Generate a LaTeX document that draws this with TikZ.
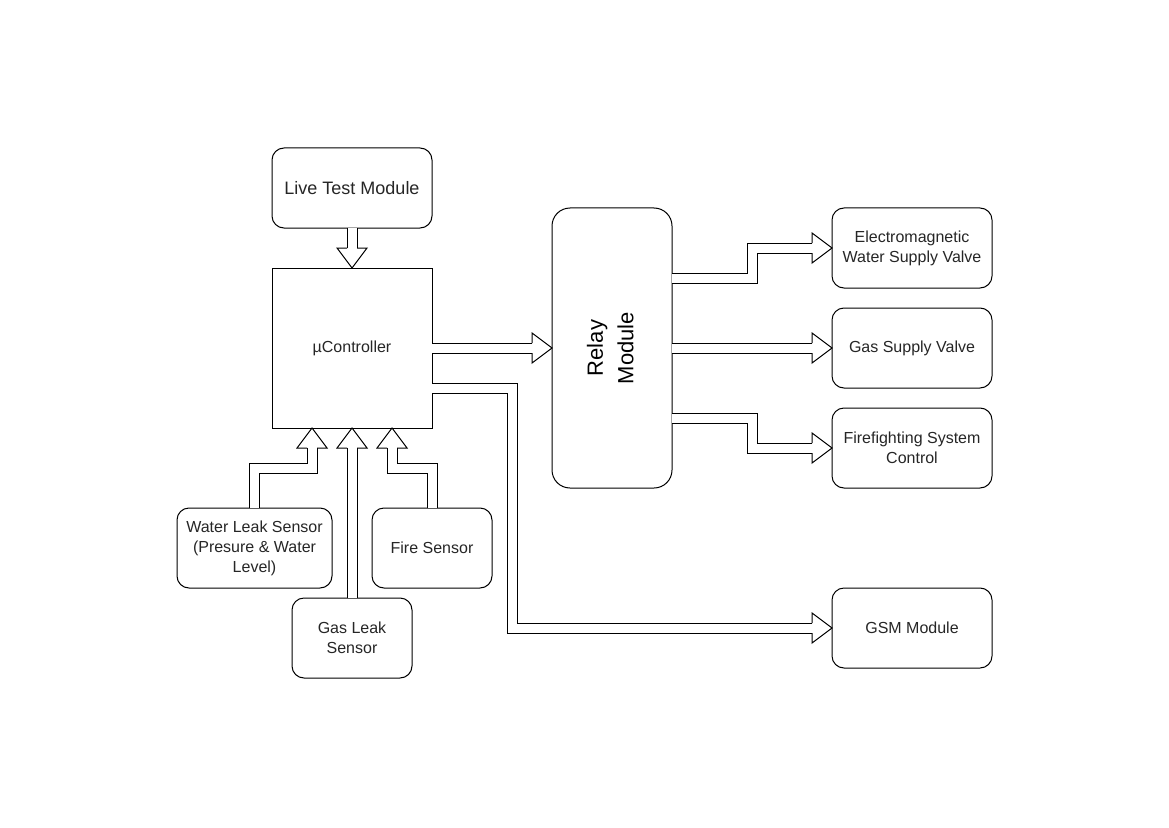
\documentclass[tikz,border=0pt]{standalone}
\usepackage{fontspec}
\setmainfont{Liberation Sans}
\usepackage{graphicx}
\usetikzlibrary{calc}

% open triangular head of a hollow block arrow; #1 = tip, #2 = direction (deg)
\newcommand\fhead[2]{%
  \begin{scope}[shift={(#1)}, rotate=#2]
    \draw[line width=0.75pt, line join=miter] (-20,5) -- (-20,15) -- (0,0) -- (-20,-15) -- (-20,-5);
  \end{scope}}

\begin{document}
\begin{tikzpicture}[x=0.75pt, y=-0.75pt,
  box/.style={draw=black, line width=0.75pt, fill=white, rounded corners=9pt,
    inner sep=2pt, outer sep=0pt, align=center, text=black!85,
    font=\fontsize{12pt}{15pt}\selectfont,
    minimum width=120pt, minimum height=60pt},
  shaft/.style={draw=black, line width=0.75pt, double=white,
    double distance=6.75pt, line join=miter}]

\useasboundingbox (0,0) rectangle (1169,827);
\fill[white] (0,0) rectangle (1169,827);

% blocks
\node[box, font=\fontsize{13.5pt}{16pt}\selectfont] (live) at (352,188) {Live Test Module};
\node[box, rounded corners=0pt, minimum height=120pt] (ctrl) at (352,348) {µController};
\node[box, rounded corners=13.5pt, minimum width=90pt, minimum height=210pt, text=black] (relay) at (612,348)
  {\fontsize{16.5pt}{23pt}\selectfont\rotatebox{90}{\begin{tabular}{@{}c@{}}Relay\\Module\end{tabular}}};
\node[box] (ev) at (912,248) {Electromagnetic\\Water Supply Valve};
\node[box] (gv) at (912,348) {Gas Supply Valve};
\node[box] (ff) at (912,448) {Firefighting System\\Control};
\node[box] (gsm) at (912,628) {GSM Module};
\node[box, minimum width=116.25pt] (wl) at (254.5,548) {Water Leak Sensor\\(Presure \& Water\\Level)};
\node[box, minimum width=90pt] (fs) at (432,548) {Fire Sensor};
\node[box, minimum width=90pt] (gl) at (352,638) {Gas Leak\\Sensor};

% test module into controller
\draw[shaft] (live.south) -- ($(ctrl.north)+(0,-20)$);
\fhead{ctrl.north}{-90}

% sensors into controller
\draw[shaft] (wl.north) |- ($(ctrl.south)+(-40,40)$) -- ($(ctrl.south)+(-40,20)$);
\fhead{$(ctrl.south)+(-40,0)$}{90}
\draw[shaft] (gl.north) -- ($(ctrl.south)+(0,20)$);
\fhead{ctrl.south}{90}
\draw[shaft] (fs.north) |- ($(ctrl.south)+(40,40)$) -- ($(ctrl.south)+(40,20)$);
\fhead{$(ctrl.south)+(40,0)$}{90}

% controller outputs
\draw[shaft] (ctrl.east) -- ($(relay.west)+(-20,0)$);
\fhead{relay.west}{0}
\draw[shaft] ($(ctrl.east)+(0,40)$) -| ($(gsm.west)+(-320,0)$) -- ($(gsm.west)+(-20,0)$);
\fhead{gsm.west}{0}

% relay outputs
\draw[shaft] ($(relay.east)+(0,-70)$) -| ($(ev.west)+(-80,0)$) -- ($(ev.west)+(-20,0)$);
\fhead{ev.west}{0}
\draw[shaft] (relay.east) -- ($(gv.west)+(-20,0)$);
\fhead{gv.west}{0}
\draw[shaft] ($(relay.east)+(0,70)$) -| ($(ff.west)+(-80,0)$) -- ($(ff.west)+(-20,0)$);
\fhead{ff.west}{0}

\end{tikzpicture}
\end{document}
